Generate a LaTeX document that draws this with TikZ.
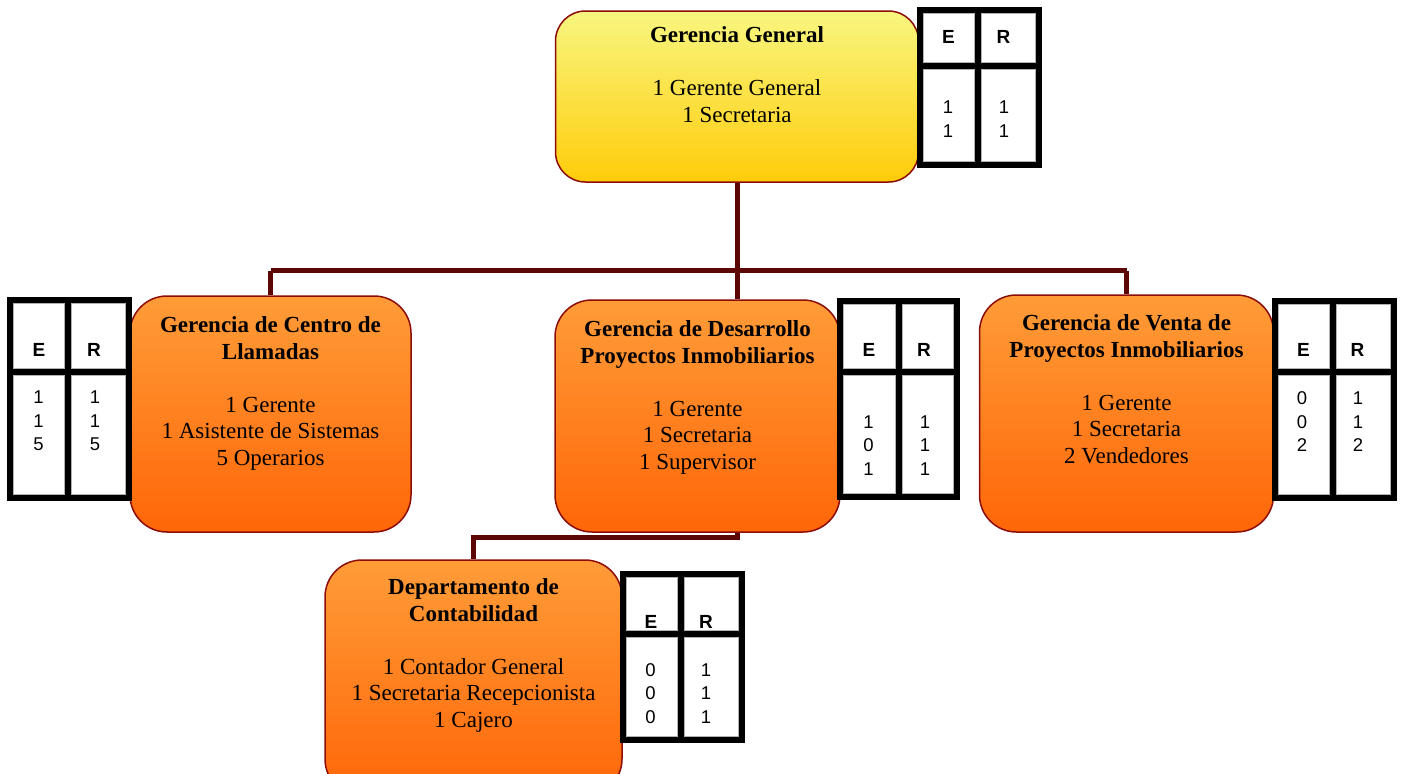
\documentclass[tikz,border=0pt]{standalone}
\usepackage{fontspec}
\setmainfont{Liberation Serif}
\newfontfamily\tabfont{Liberation Sans}
\definecolor{boxedge}{RGB}{140,12,8}
\definecolor{linkred}{RGB}{92,6,6}
\definecolor{goldtop}{RGB}{248,246,128}
\definecolor{goldbot}{RGB}{255,204,10}
\definecolor{orgtop}{RGB}{255,156,56}
\definecolor{orgbot}{RGB}{255,102,8}

% E/R staffing table: outer left, top, right, bottom; column divider x; header divider y
\newcommand\ertable[6]{%
  \draw[tabcell] (#1+6.5,#2+6.5) rectangle (#5-3.5,#6-3.5);
  \draw[tabcell] (#5+3.5,#2+6.5) rectangle (#3-6.5,#6-3.5);
  \draw[tabcell] (#1+6.5,#6+3.5) rectangle (#5-3.5,#4-6.5);
  \draw[tabcell] (#5+3.5,#6+3.5) rectangle (#3-6.5,#4-6.5);
  \draw[tabline] (#1+3,#2+3) rectangle (#3-3,#4-3);
  \draw[tabline] (#5,#2+3) -- (#5,#4-3);
  \draw[tabline] (#1+3,#6) -- (#3-3,#6);
}

\begin{document}
\begin{tikzpicture}[x=1pt,y=-1pt,
  unitbox/.style={draw=boxedge, line width=1.5pt, rounded corners=37pt, inner sep=0pt},
  topunit/.style={unitbox, rounded corners=30pt, top color=goldtop, bottom color=goldbot},
  subunit/.style={unitbox, top color=orgtop, bottom color=orgbot},
  unittext/.style={anchor=north, align=center, inner sep=0pt, font=\fontsize{23}{26.5}\selectfont},
  link/.style={draw=linkred, line width=5pt},
  tabline/.style={line width=6pt, black, line join=miter},
  tabcell/.style={draw=black!30, line width=1pt},
  tabhead/.style={font=\tabfont\bfseries\fontsize{19}{22}\selectfont, inner sep=0pt},
  tabnum/.style={font=\tabfont\fontsize{18.5}{23.5}\selectfont, align=center, inner sep=0pt},
]
\useasboundingbox (0,0) rectangle (1401,774);
\clip (0,0) rectangle (1401,774);

% organisational units
\node[topunit, minimum width=363pt, minimum height=171pt] (gg) at (737,96.5) {};
\node[subunit, minimum width=281pt, minimum height=236pt] (cl) at (270.5,414) {};
\node[subunit, minimum width=285pt, minimum height=232pt] (dp) at (697.5,416) {};
\node[subunit, minimum width=294pt, minimum height=237pt] (vp) at (1126.5,413.5) {};
\node[subunit, minimum width=297pt, minimum height=236pt] (dc) at (473.5,678) {};

% reporting lines
\coordinate (bus) at (0,270.5);
\coordinate (bus2) at (0,537.5);
\draw[link] (gg.south) -- (gg.south |- bus);
\draw[link] (cl.north |- bus) -- (vp.north |- bus);
\draw[link] (cl.north |- bus) -- (cl.north);
\draw[link] (vp.north |- bus) -- (vp.north);
\draw[link] (gg.south |- bus) -- (gg.south |- dp.north);
\draw[link] (gg.south |- dp.south) -- (gg.south |- bus2) -| (dc.north);

% unit texts
\node[unittext] (gg-t) at (gg.center |- 0,26.3)
  {\textbf{Gerencia General}\\[27pt]1 Gerente General\\1 Secretaria};
\node[unittext] (cl-t) at (cl.center |- 0,316.5)
  {\textbf{Gerencia de Centro de}\\\textbf{Llamadas}\\[26.5pt]1 Gerente\\1 Asistente de Sistemas\\5 Operarios};
\node[unittext] (dp-t) at (dp.center |- 0,320.5)
  {\textbf{Gerencia de Desarrollo}\\\textbf{Proyectos Inmobiliarios}\\[26.5pt]1 Gerente\\1 Secretaria\\1 Supervisor};
\node[unittext] (vp-t) at (vp.center |- 0,314.5)
  {\textbf{Gerencia de Venta de}\\\textbf{Proyectos Inmobiliarios}\\[26.5pt]1 Gerente\\1 Secretaria\\2 Vendedores};
\node[unittext] (dc-t) at (dc.center |- 0,578.5)
  {\textbf{Departamento de}\\\textbf{Contabilidad}\\[26.5pt]1 Contador General\\1 Secretaria Recepcionista\\1 Cajero};

% staffing tables
\ertable{917}{7}{1042}{168}{978}{66}
\node[tabhead] (gg-e) at (948.5,36.5) {E};
\node[tabhead] (gg-r) at (1003.5,36.5) {R};
\node[tabnum] (gg-en) at (948,119) {1\\1};
\node[tabnum] (gg-rn) at (1004,119) {1\\1};

\ertable{7}{297}{132}{501}{68}{372}
\node[tabhead] (cl-e) at (39,350) {E};
\node[tabhead] (cl-r) at (94,350) {R};
\node[tabnum] (cl-en) at (38.5,421) {1\\1\\5};
\node[tabnum] (cl-rn) at (95,421) {1\\1\\5};

\ertable{837}{298}{960}{500}{899}{372}
\node[tabhead] (dp-e) at (869,350) {E};
\node[tabhead] (dp-r) at (924,350) {R};
\node[tabnum] (dp-en) at (868.5,445.5) {1\\0\\1};
\node[tabnum] (dp-rn) at (925,445.5) {1\\1\\1};

\ertable{1272}{298}{1397}{501}{1333}{372}
\node[tabhead] (vp-e) at (1303.5,350) {E};
\node[tabhead] (vp-r) at (1357.5,350) {R};
\node[tabnum] (vp-en) at (1302,422) {0\\0\\2};
\node[tabnum] (vp-rn) at (1358,422) {1\\1\\2};

\ertable{620}{571}{745}{743}{681}{634}
\node[tabhead] (dc-e) at (651,622) {E};
\node[tabhead] (dc-r) at (706,622) {R};
\node[tabnum] (dc-en) at (650.5,693.5) {0\\0\\0};
\node[tabnum] (dc-rn) at (706,693.5) {1\\1\\1};
\end{tikzpicture}
\end{document}
